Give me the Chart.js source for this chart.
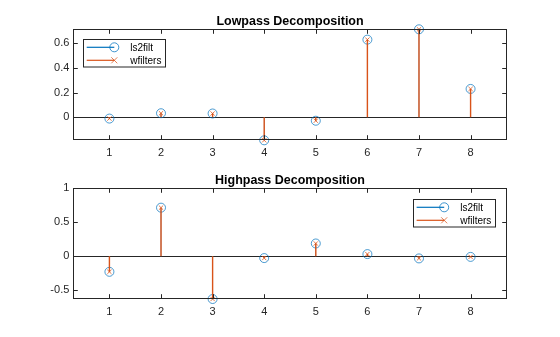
<!DOCTYPE html>
<html>
<head>
<meta charset="utf-8">
<script src="https://cdn.jsdelivr.net/npm/chart.js@4.4.1/dist/chart.umd.min.js"></script>
<style>
  html, body { margin: 0; padding: 0; background: #ffffff; }
  #wrap { position: relative; width: 560px; height: 337px; }
  canvas { position: absolute; left: 0; }
</style>
</head>
<body>
<div id="wrap">
  <canvas id="low" width="560" height="168" style="top:0px"></canvas>
  <canvas id="high" width="560" height="169" style="top:168px"></canvas>
</div>
<script>
// db4 decomposition filters, as returned by ls2filt and by wfilters
const sampleIndex = [1, 2, 3, 4, 5, 6, 7, 8];
const ls2filtLow   = [-0.0106, 0.0329, 0.0308, -0.1870, -0.0280, 0.6309, 0.7148, 0.2304];
const wfiltersLow  = [-0.0106, 0.0329, 0.0308, -0.1870, -0.0280, 0.6309, 0.7148, 0.2304];
const ls2filtHigh  = [-0.2304, 0.7148, -0.6309, -0.0280, 0.1870, 0.0308, -0.0329, -0.0106];
const wfiltersHigh = [-0.2304, 0.7148, -0.6309, -0.0280, 0.1870, 0.0308, -0.0329, -0.0106];
const seriesNames = ['ls2filt', 'wfilters'];
const xTicks = [1, 2, 3, 4, 5, 6, 7, 8];
const lowYTicks = [0, 0.2, 0.4, 0.6];
const highYTicks = [-0.5, 0, 0.5, 1];

const BLUE = '#0072BD';
const ORANGE = '#D95319';
const AXIS = '#262626';
const FONT = '"Liberation Sans", Arial, Helvetica, sans-serif';

function pts(values) {
  return values.map((v, i) => ({ x: sampleIndex[i], y: v }));
}

// Axes box, inward tick marks, baseline, title and legend, MATLAB style
const stemAxes = {
  id: 'stemAxes',
  beforeDatasetsDraw(chart) {
    const { ctx, chartArea: a, scales: { y } } = chart;
    const y0 = Math.round(y.getPixelForValue(0)) + 0.5;
    ctx.save();
    ctx.strokeStyle = AXIS;
    ctx.lineWidth = 1;
    ctx.beginPath();
    ctx.moveTo(a.left, y0);
    ctx.lineTo(a.right, y0);
    ctx.stroke();
    ctx.restore();
  },
  afterDraw(chart, args, opts) {
    const { ctx, chartArea: a, scales: { x, y } } = chart;
    const tl = 4.3;
    ctx.save();
    ctx.strokeStyle = AXIS;
    ctx.lineWidth = 1;
    const L = Math.round(a.left) + 0.5, R = Math.round(a.right) - 0.5;
    const T = Math.round(a.top) + 0.5, B = Math.round(a.bottom) - 0.5;
    ctx.strokeRect(L, T, R - L, B - T);
    ctx.beginPath();
    x.ticks.forEach(t => {
      const px = Math.round(x.getPixelForValue(t.value)) + 0.5;
      ctx.moveTo(px, B); ctx.lineTo(px, B - tl);
      ctx.moveTo(px, T); ctx.lineTo(px, T + tl);
    });
    y.ticks.forEach(t => {
      const py = Math.round(y.getPixelForValue(t.value)) + 0.5;
      ctx.moveTo(L, py); ctx.lineTo(L + tl, py);
      ctx.moveTo(R, py); ctx.lineTo(R - tl, py);
    });
    ctx.stroke();

    // title
    ctx.fillStyle = '#000000';
    ctx.font = 'bold 12.5px ' + FONT;
    ctx.textAlign = 'center';
    ctx.textBaseline = 'alphabetic';
    ctx.fillText(opts.title, (a.left + a.right) / 2, a.top - 4.3);

    // legend
    const w = 82, h = 27.5;
    const lx = opts.legendSide === 'left' ? a.left + 10 : a.right - 11.5 - w;
    const ly = a.top + opts.legendTop;
    ctx.fillStyle = '#ffffff';
    ctx.fillRect(lx, ly, w, h);
    ctx.strokeStyle = AXIS;
    ctx.strokeRect(Math.round(lx) + 0.5, Math.round(ly) + 0.5, w, h);
    const rows = [ly + 8, ly + 21];
    const colors = [BLUE, ORANGE];
    ctx.font = '10px ' + FONT;
    ctx.textAlign = 'left';
    ctx.textBaseline = 'middle';
    rows.forEach((ry, i) => {
      ctx.strokeStyle = colors[i];
      ctx.lineWidth = 1.2;
      ctx.beginPath();
      ctx.moveTo(lx + 3.4, ry);
      ctx.lineTo(lx + 31, ry);
      ctx.stroke();
      ctx.lineWidth = 1;
      ctx.globalAlpha = 0.75;
      ctx.beginPath();
      if (i === 0) {
        ctx.arc(lx + 31, ry, 4.5, 0, Math.PI * 2);
      } else {
        ctx.moveTo(lx + 28, ry - 3); ctx.lineTo(lx + 34, ry + 3);
        ctx.moveTo(lx + 34, ry - 3); ctx.lineTo(lx + 28, ry + 3);
      }
      ctx.stroke();
      ctx.globalAlpha = 1;
      ctx.fillStyle = '#000000';
      ctx.fillText(seriesNames[i], lx + 47, ry + 0.5);
    });
    ctx.restore();
  }
};

function makeChart(id, cfg) {
  const canvas = document.getElementById(id);
  const H = canvas.height;
  const stem = { type: 'bar', grouped: false, inflateAmount: 0, borderWidth: 0 };
  return new Chart(canvas, {
    type: 'bar',
    data: {
      datasets: [
        { type: 'line', label: seriesNames[1] + ' marker', data: pts(cfg.wf), showLine: false,
          pointStyle: 'crossRot', pointRadius: 3, pointBorderWidth: 1, clip: false,
          pointBorderColor: 'rgba(217,83,25,0.8)', pointBackgroundColor: 'rgba(0,0,0,0)', order: 1 },
        Object.assign({ label: seriesNames[1], data: pts(cfg.wf), backgroundColor: ORANGE,
          barThickness: 1.4, order: 2 }, stem),
        { type: 'line', label: seriesNames[0] + ' marker', data: pts(cfg.ls), showLine: false,
          pointStyle: 'circle', pointRadius: 4.5, pointBorderWidth: 1, clip: false,
          pointBorderColor: 'rgba(0,114,189,0.7)', pointBackgroundColor: 'rgba(0,0,0,0)', order: 3 },
        Object.assign({ label: seriesNames[0], data: pts(cfg.ls), backgroundColor: BLUE,
          barThickness: 0.5, order: 4 }, stem)
      ]
    },
    options: {
      responsive: false,
      animation: false,
      devicePixelRatio: 1,
      layout: { padding: { top: cfg.top, right: 560 - 506.7, left: 0, bottom: 0 } },
      plugins: {
        legend: { display: false },
        tooltip: { enabled: false },
        stemAxes: { title: cfg.title, legendSide: cfg.legendSide, legendTop: cfg.legendTop }
      },
      scales: {
        x: {
          type: 'linear', min: 0.3, max: 8.7, offset: false,
          afterBuildTicks(s) { s.ticks = xTicks.map(v => ({ value: v })); },
          afterFit(s) { s.height = H - cfg.bottom; },
          grid: { display: false, drawTicks: false },
          border: { display: false },
          ticks: { color: AXIS, font: { family: FONT, size: 11 }, padding: 6, maxRotation: 0,
                   callback: v => String(v) }
        },
        y: {
          type: 'linear', min: cfg.yMin, max: cfg.yMax,
          afterBuildTicks(s) { s.ticks = cfg.yTicks.map(v => ({ value: v })); },
          afterFit(s) { s.width = 73.3; },
          grid: { display: false, drawTicks: false },
          border: { display: false },
          ticks: { color: AXIS, font: { family: FONT, size: 11 }, padding: 4,
                   callback: v => String(v) }
        }
      }
    },
    plugins: [stemAxes]
  });
}

makeChart('low', {
  title: 'Lowpass Decomposition', ls: ls2filtLow, wf: wfiltersLow,
  yMin: -0.187, yMax: 0.7148, yTicks: lowYTicks,
  top: 29.3, bottom: 140.3, legendSide: 'left', legendTop: 10
});
makeChart('high', {
  title: 'Highpass Decomposition', ls: ls2filtHigh, wf: wfiltersHigh,
  yMin: -0.6309, yMax: 1, yTicks: highYTicks,
  top: 20.3, bottom: 131, legendSide: 'right', legendTop: 11
});
</script>
</body>
</html>
